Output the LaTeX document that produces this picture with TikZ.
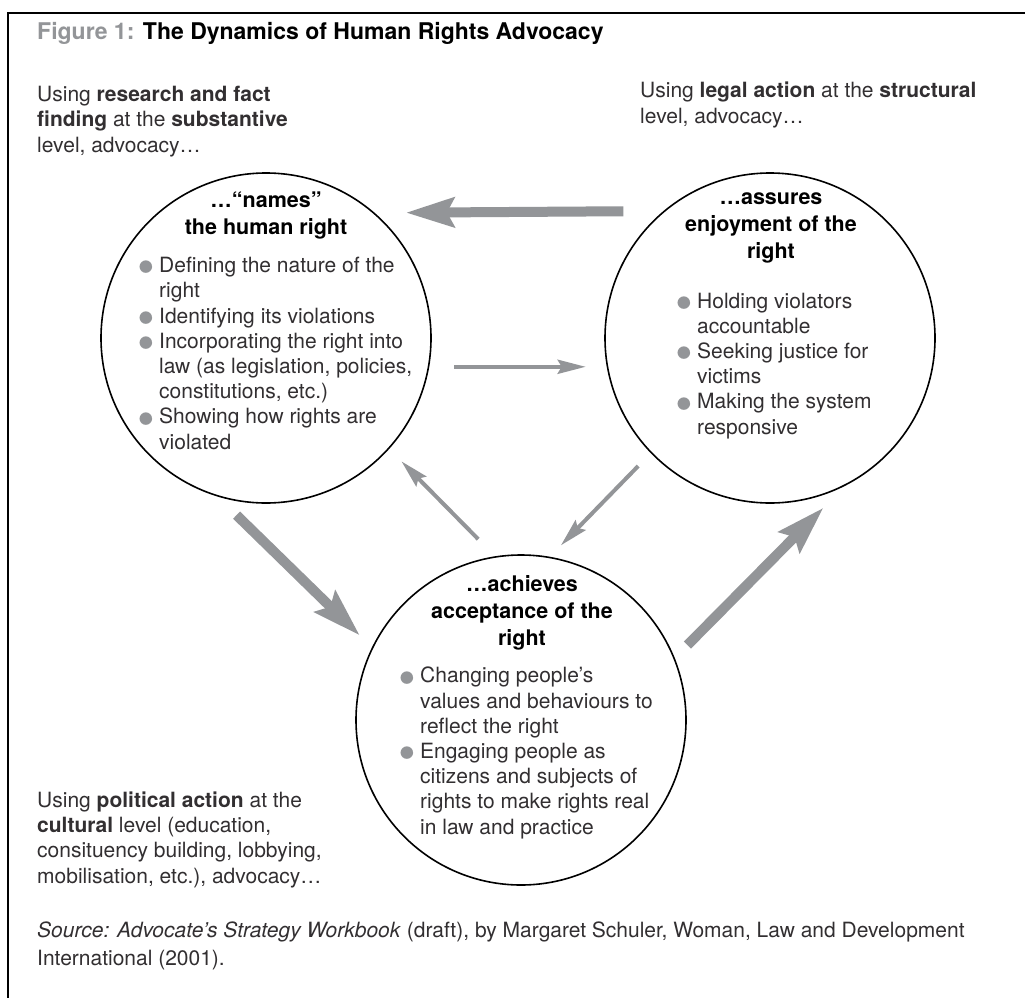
\documentclass[tikz,border=0pt]{standalone}
\usepackage{fontspec}
\setmainfont{TeX Gyre Heros}
\usetikzlibrary{arrows.meta,positioning}

\definecolor{arrowgray}{RGB}{147,149,152}
\definecolor{inkgray}{RGB}{50,47,49}

\newcommand{\dotitem}{\makebox[19pt][l]{\hspace*{-3pt}\textcolor{arrowgray}{\smash{\raisebox{-12.3pt}{\scalebox{2.4}{\textbullet}}}}}}
\newcommand{\itmskip}{\hspace*{19pt}}

\tikzset{
  stage/.style={circle, draw=black, line width=1.6pt, minimum size=330pt, inner sep=0pt},
  body/.style={inner sep=0pt, align=left, text=inkgray, font=\fontsize{21}{25.2}\selectfont},
  heading/.style={inner sep=0pt, align=center, text=black, font=\fontsize{21.5}{27}\selectfont\bfseries},
  bigarrow/.style={draw=arrowgray, line width=10pt, -{Stealth[length=48pt, width=29pt, inset=7pt]}},
  smallarrow/.style={draw=arrowgray, line width=4pt, -{Stealth[length=28pt, width=14pt, inset=4pt]}}
}

\begin{document}
\begin{tikzpicture}[x=1pt, y=-1pt]
  \useasboundingbox (0,0) rectangle (1025,998);
  \fill[white] (0,0) rectangle (1025,998);

  % frame
  \draw[line width=2pt] (8,998) -- (8,13) -- (1025,13);

  % title
  \node[inner sep=0pt, anchor=base west, font=\fontsize{23}{26}\selectfont\bfseries] (title) at (37,40)
    {\textcolor{arrowgray}{Figure 1:} The Dynamics of Human Rights Advocacy};

  % the three stages
  \node[stage] (names) at (266,338) {};
  \node[stage] (enjoy) at (770,338) {};
  \node[stage] (accept) at (521,720) {};

  % level texts (base = last line)
  \node[body, anchor=base west] (substantive) at (37,152)
    {Using \textbf{research and fact}\\ \textbf{finding} at the \textbf{substantive}\\ level, advocacy…};
  \node[body, anchor=base west] (structural) at (640,123)
    {Using \textbf{legal action} at the \textbf{structural}\\ level, advocacy…};
  \node[body, anchor=base west] (cultural) at (37,883)
    {Using \textbf{political action} at the\\ \textbf{cultural} level (education,\\ consituency building, lobbying,\\ mobilisation, etc.), advocacy…};

  % names the right
  \node[heading, anchor=base] (namesHead) at (266,234) {…“names”\\ the human right};
  \node[body, anchor=base west] (namesList) at (140,449)
    {\dotitem Defining the nature of the\\ \itmskip right\\
     \dotitem Identifying its violations\\
     \dotitem Incorporating the right into\\ \itmskip law (as legislation, policies,\\ \itmskip constitutions, etc.)\\
     \dotitem Showing how rights are\\ \itmskip violated};

  % assures enjoyment
  \node[heading, anchor=base] (enjoyHead) at (771,258) {…assures\\ enjoyment of the\\ right};
  \node[body, anchor=base west] (enjoyList) at (678,434)
    {\dotitem Holding violators\\ \itmskip accountable\\
     \dotitem Seeking justice for\\ \itmskip victims\\
     \dotitem Making the system\\ \itmskip responsive};

  % achieves acceptance
  \node[heading, anchor=base] (acceptHead) at (522,645) {…achieves\\ acceptance of the\\ right};
  \node[body, anchor=base west] (acceptList) at (401,834)
    {\dotitem Changing people’s\\ \itmskip values and behaviours to\\ \itmskip reflect the right\\
     \dotitem Engaging people as\\ \itmskip citizens and subjects of\\ \itmskip rights to make rights real\\ \itmskip in law and practice};

  % arrows between the stages
  \draw[bigarrow, shorten <=40pt, shorten >=31pt] (enjoy.130.7) -- (names.49.3);
  \draw[smallarrow, shorten <=25pt, shorten >=21pt] (names.-10.5) -- (enjoy.190.5);
  \draw[smallarrow, shorten <=24pt, shorten >=17.5pt] (accept.99) -- (names.-42.5);
  \draw[smallarrow, shorten <=18pt, shorten >=16pt] (enjoy.224.3) -- (accept.80.65);
  \draw[bigarrow, shorten <=26.6pt, shorten >=17pt] (names.253.5) -- (accept.154.5);
  \draw[bigarrow, shorten <=18pt, shorten >=31pt] (accept.22.7) -- (enjoy.-63.4);

  % source
  \node[body, anchor=base west, font=\fontsize{21}{28}\selectfont] (source) at (37,965)
    {\textit{Source: Advocate’s Strategy Workbook} (draft), by Margaret Schuler, Woman, Law and Development\\ International (2001).};
\end{tikzpicture}
\end{document}
